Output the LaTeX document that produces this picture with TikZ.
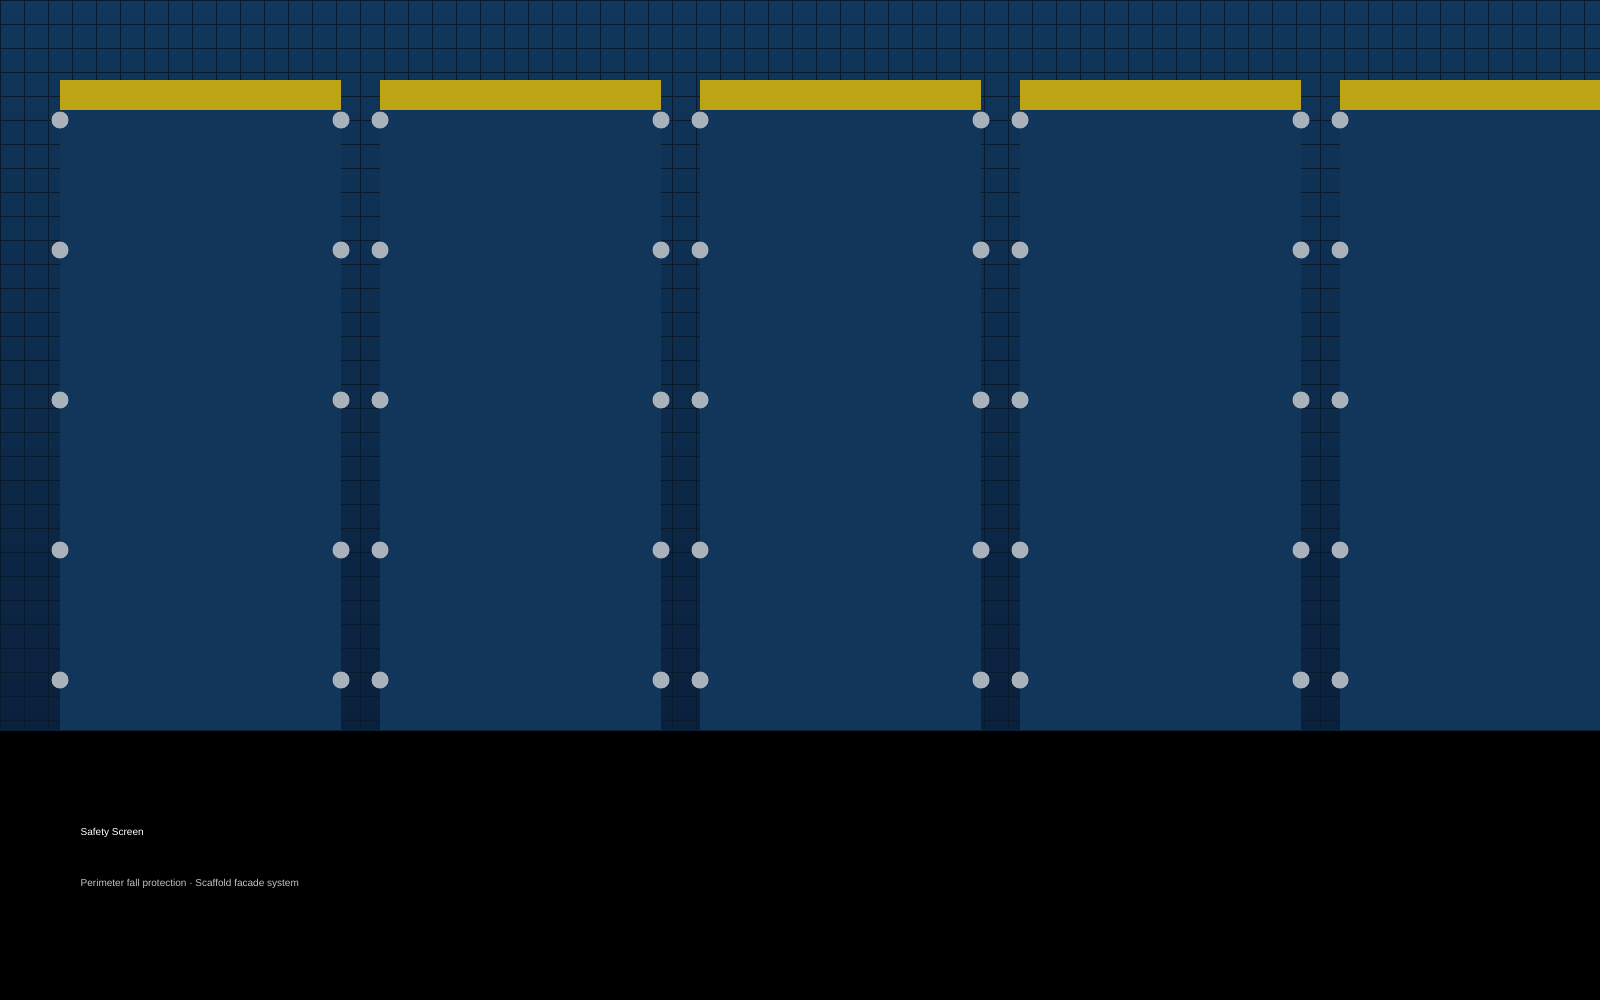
\documentclass[tikz,border=0pt]{standalone}
\usepackage{fontspec}
\setmainfont{Liberation Sans}
\definecolor{scrntop}{HTML}{10375C}
\definecolor{scrnbot}{HTML}{0A213D}
\definecolor{scrngrid}{HTML}{071A2E}
\definecolor{scrnpanel}{HTML}{12355A}
\definecolor{scrnrail}{HTML}{BDA316}
\definecolor{scrnclamp}{HTML}{A9B1BB}
\definecolor{scrnsub}{HTML}{C4C4C4}

\begin{document}
\begin{tikzpicture}[x=0.01cm, y=-0.01cm,
    gridline/.style={draw=scrngrid, line width=0.22pt},
    panel/.style={fill=scrnpanel},
    rail/.style={fill=scrnrail},
    clamp/.style={fill=scrnclamp},
    caption/.style={anchor=west, inner sep=0pt}]
  \useasboundingbox (0,0) rectangle (1600,1000);
  \clip (0,0) rectangle (1600,1000);

  % backdrop: facade wall with grid, dark strip below
  \fill[black] (0,730) rectangle (1600,1000);
  \shade[top color=scrntop, bottom color=scrnbot] (0,0) rectangle (1600,730);
  \foreach \gx in {0,24,...,1584}
    \draw[gridline] (\gx,0) -- (\gx,730);
  \foreach \gy in {0,24,...,720}
    \draw[gridline] (0,\gy) -- (1600,\gy);

  % screen panels: toe rail on top, clamps down both edges
  \foreach \px in {60,380,700,1020,1340} {
    \fill[panel] (\px,110) rectangle ++(281,620);
    \fill[rail] (\px,80) rectangle ++(281,30);
    \foreach \py in {120,250,400,550,680} {
      \fill[clamp] (\px,\py) circle (8.5);
      \fill[clamp] (\px+281,\py) circle (8.5);
    }
  }

  \node[caption, font=\fontsize{2.85}{3.4}\selectfont, text=white]
    (title) at (80,833) {Safety Screen};
  \node[caption, font=\fontsize{2.85}{3.4}\selectfont, text=scrnsub]
    (subtitle) at (80,884) {Perimeter fall protection · Scaffold facade system};
\end{tikzpicture}
\end{document}
